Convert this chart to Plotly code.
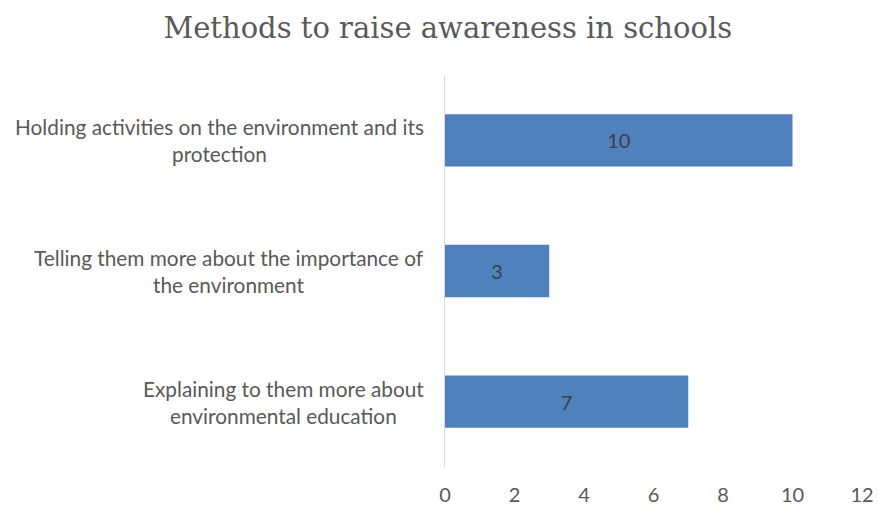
import plotly.graph_objects as go

categories = [
    "Explaining to them more about<br>environmental education",
    "Telling them more about the importance of<br>the environment",
    "Holding activities on the environment and its<br>protection",
]
values = [7, 3, 10]
tick_vals = [0, 2, 4, 6, 8, 10, 12]

fig = go.Figure()
fig.add_trace(go.Bar(
    y=categories, x=values, orientation="h",
    marker=dict(color="#4F81BD", line=dict(width=0)),
    text=[str(v) for v in values], textposition="inside", insidetextanchor="middle",
    textfont=dict(family="Lato", size=20, color="#404040"),
    width=0.4, hoverinfo="skip",
))

for c in categories:
    fig.add_annotation(
        x=0, xref="paper", y=c, yref="y", text=c, showarrow=False,
        xanchor="right", yanchor="middle", align="center", xshift=-19,
        font=dict(family="Lato", size=20.8, color="#595959"),
    )

fig.update_layout(
    width=878, height=506,
    margin=dict(l=445, r=16, t=75, b=39, autoexpand=False),
    plot_bgcolor="white", paper_bgcolor="white",
    showlegend=False,
    title=dict(text="Methods to raise awareness in schools", x=0.51, xanchor="center",
               y=0.945, yanchor="middle",
               font=dict(family="DejaVu Serif", size=29, color="#595959")),
    xaxis=dict(range=[0, 12], tickvals=tick_vals, showgrid=False, zeroline=False,
               showline=False, ticks="", automargin=False,
               tickfont=dict(family="Lato", size=20, color="#595959"),
               ticklabelstandoff=14),
    yaxis=dict(showticklabels=False, showgrid=False, zeroline=False, showline=True,
               linecolor="#D9D9D9", linewidth=1, ticks="", automargin=False,
               categoryorder="array", categoryarray=categories),
)
fig.write_html("out.html", config={"displayModeBar": False},
               post_script="document.body.style.margin='0';")
